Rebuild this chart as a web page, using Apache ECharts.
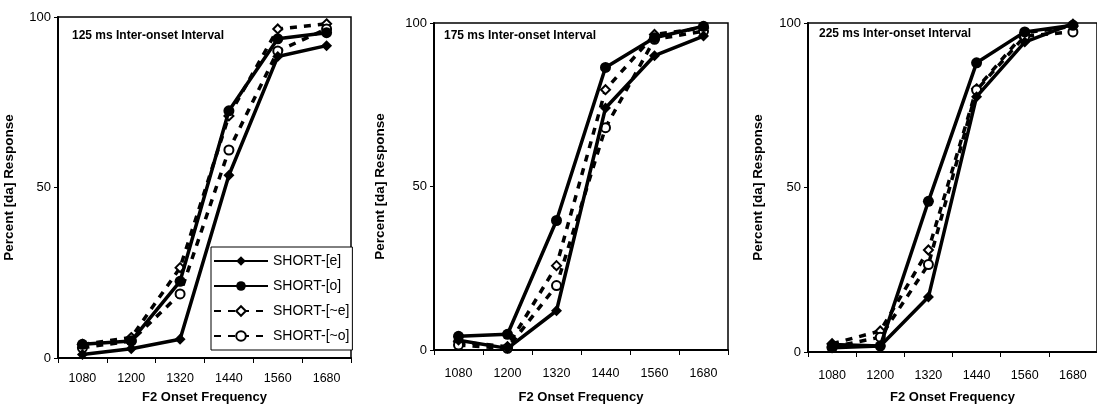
<!DOCTYPE html>
<html>
<head>
<meta charset="utf-8">
<script src="https://cdn.jsdelivr.net/npm/echarts@6/dist/echarts.min.js"></script>
<style>
html,body{margin:0;padding:0;background:#fff;}
#chart{width:1097px;height:409px;}
</style>
</head>
<body>
<div id="chart"></div>
<script>
var categories = ['1080', '1200', '1320', '1440', '1560', '1680'];
var seriesNames = ['SHORT-[e]', 'SHORT-[o]', 'SHORT-[~e]', 'SHORT-[~o]'];
var panelTitles = ['125 ms Inter-onset Interval', '175 ms Inter-onset Interval', '225 ms Inter-onset Interval'];
var yTicks = [0, 50, 100];

// 125 ms panel
var ioi125_e  = [1.0, 2.7, 5.5, 53.6, 88.4, 91.6];
var ioi125_o  = [4.0, 5.0, 22.5, 72.5, 93.6, 95.4];
var ioi125_ne = [4.0, 6.0, 26.5, 71.0, 96.5, 98.0];
var ioi125_no = [3.0, 5.0, 18.8, 61.0, 90.0, 96.5];
// 175 ms panel
var ioi175_e  = [3.0, 0.5, 12.0, 74.0, 90.0, 96.0];
var ioi175_o  = [4.2, 4.8, 39.6, 86.4, 95.5, 99.0];
var ioi175_ne = [2.5, 1.0, 25.8, 79.6, 96.5, 98.5];
var ioi175_no = [1.5, 0.5, 19.7, 68.0, 95.0, 97.5];
// 225 ms panel
var ioi225_e  = [2.3, 1.8, 16.7, 77.6, 94.2, 99.8];
var ioi225_o  = [1.3, 1.8, 45.8, 87.9, 97.3, 99.3];
var ioi225_ne = [2.5, 6.4, 31.0, 80.0, 97.0, 99.0];
var ioi225_no = [1.5, 4.5, 26.6, 79.6, 96.0, 97.3];

var panelData = [
  [ioi125_e, ioi125_o, ioi125_ne, ioi125_no],
  [ioi175_e, ioi175_o, ioi175_ne, ioi175_no],
  [ioi225_e, ioi225_o, ioi225_ne, ioi225_no]
];

var grids = [
  {left: 58, right: 746, top: 17, bottom: 50},
  {left: 434, right: 369, top: 23, bottom: 56},
  {left: 808, right: -9, top: 23, bottom: 56}
];
var yNameGap = [42, 47, 43];
var xNameGap = [33, 41, 39];
var xLabelMargin = [14, 17, 17];
var titlePos = [{left: 72, top: 30}, {left: 444, top: 30}, {left: 819, top: 28}];

var styles = [
  {symbol: 'diamond', symbolSize: 11, lineType: 'solid', empty: false},
  {symbol: 'circle', symbolSize: 11, lineType: 'solid', empty: false},
  {symbol: 'emptyDiamond', symbolSize: 9, lineType: [7, 7], empty: true},
  {symbol: 'emptyCircle', symbolSize: 9, lineType: [7, 7], empty: true}
];

var option = {
  backgroundColor: '#fff',
  animation: false,
  textStyle: {fontFamily: 'Arial, "Liberation Sans", sans-serif', color: '#000'},
  title: panelTitles.map(function (t, i) {
    return {
      text: t, left: titlePos[i].left, top: titlePos[i].top, padding: 0,
      textStyle: {fontSize: 12, fontWeight: 'bold', color: '#000', fontFamily: 'Arial, "Liberation Sans", sans-serif'}
    };
  }),
  grid: grids.map(function (g) {
    return Object.assign({show: true, borderColor: '#000', borderWidth: 1.5, backgroundColor: 'transparent', containLabel: false}, g);
  }),
  legend: {
    data: seriesNames,
    orient: 'vertical',
    left: 211, top: 247,
    padding: [7, 3, 7, 2],
    itemGap: 11,
    itemWidth: 54,
    itemHeight: 12,
    backgroundColor: '#fff',
    borderColor: '#000',
    borderWidth: 1,
    textStyle: {fontSize: 14, color: '#000', fontFamily: 'Arial, "Liberation Sans", sans-serif'}
  },
  xAxis: grids.map(function (g, i) {
    return {
      type: 'category', gridIndex: i, data: categories, boundaryGap: true,
      name: 'F2 Onset Frequency', nameLocation: 'middle', nameGap: xNameGap[i],
      nameTextStyle: {fontSize: 13, fontWeight: 'bold', color: '#000'},
      axisLine: {lineStyle: {color: '#000', width: 2}},
      axisTick: {show: true, length: 5, lineStyle: {color: '#000', width: 1}},
      axisLabel: {fontSize: 12.5, color: '#000', margin: xLabelMargin[i]},
      splitLine: {show: false}
    };
  }),
  yAxis: grids.map(function (g, i) {
    return {
      type: 'value', gridIndex: i, min: yTicks[0], max: yTicks[yTicks.length - 1], interval: 50,
      name: 'Percent [da] Response', nameLocation: 'middle', nameGap: yNameGap[i],
      nameTextStyle: {fontSize: 13.5, fontWeight: 'bold', color: '#000'},
      axisLine: {show: true, lineStyle: {color: '#000', width: 2}},
      axisTick: {show: true, length: 4, lineStyle: {color: '#000'}},
      axisLabel: {fontSize: 13, color: '#000', margin: 7},
      splitLine: {show: false}
    };
  }),
  series: []
};

panelData.forEach(function (pd, pi) {
  pd.forEach(function (vals, si) {
    var st = styles[si];
    option.series.push({
      type: 'line',
      name: seriesNames[si],
      xAxisIndex: pi, yAxisIndex: pi,
      data: vals,
      symbol: st.symbol,
      symbolSize: st.symbolSize,
      showAllSymbol: true,
      z: st.empty ? 2 : 3,
      lineStyle: {color: '#000', width: 3.5, type: st.lineType},
      itemStyle: {color: '#000', borderColor: '#000', borderWidth: st.empty ? 2.5 : 0}
    });
  });
});

var chart = echarts.init(document.getElementById('chart'), null, {renderer: 'canvas'});
chart.setOption(option);
</script>
</body>
</html>
